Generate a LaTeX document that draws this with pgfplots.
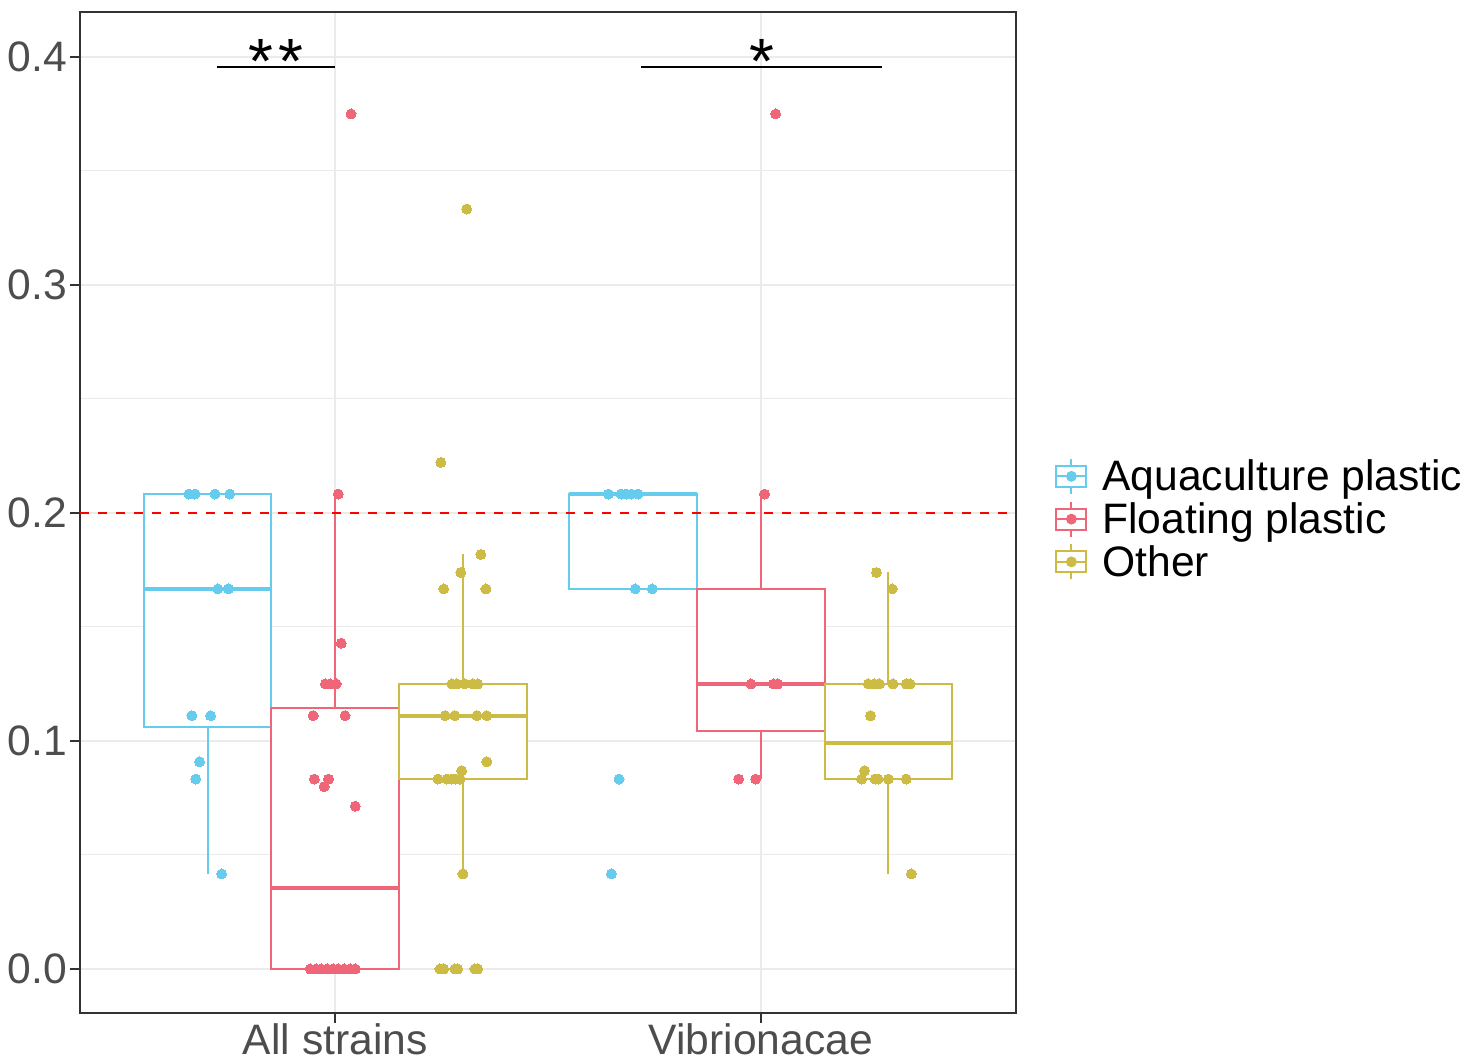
\documentclass[border=0pt]{standalone}
\usepackage{pgfplots}
\pgfplotsset{compat=1.18}
\usepackage{fontspec}
\setmainfont{Liberation Sans}
\definecolor{aqua}{HTML}{66CCEE}
\definecolor{flo}{HTML}{EE6677}
\definecolor{oth}{HTML}{CCBB44}
\definecolor{tickgray}{HTML}{4D4D4D}
\definecolor{axgray}{HTML}{333333}
\definecolor{gridgray}{HTML}{EBEBEB}
\newcommand\ticksfont{\fontsize{21.3bp}{25bp}\selectfont}
\newcommand\sigfont{\fontsize{32bp}{36bp}\selectfont}
\newcommand\keyimg[1]{%
 \addlegendimage{legend image code/.code={
   \draw[#1, line width=1bp] (7.5bp,-6.75bp) -- (7.5bp,10.75bp);
   \draw[#1, line width=1bp, fill=white] (0bp,-3.25bp) rectangle (15bp,7.25bp);
   \draw[#1, line width=1bp] (0bp,2bp) -- (15bp,2bp);
   \fill[#1] (7.5bp,2bp) circle (2.5bp);
 }}}
% one box: colour, position, lower whisker, lower quartile, median, upper quartile, upper whisker
\newcommand\gbox[7]{%
 \addplot[#1, line width=1bp, forget plot] coordinates {(#2,#3) (#2,#4)};
 \addplot[#1, line width=1bp, forget plot] coordinates {(#2,#6) (#2,#7)};
 \addplot[#1, line width=1bp, fill=white, line join=miter, forget plot] coordinates {(#2-0.15,#4) (#2+0.15,#4) (#2+0.15,#6) (#2-0.15,#6)} -- cycle;
 \addplot[#1, line width=2bp, forget plot] coordinates {(#2-0.15,#5) (#2+0.15,#5)};
}
\begin{document}
\begin{tikzpicture}
\useasboundingbox (-40bp,-25bp) rectangle (701.5bp,506.5bp);
\begin{axis}[
 at={(0,0)}, anchor=south west,
 scale only axis, width=468bp, height=500.5bp,
 xmin=0.4, xmax=2.6, ymin=-0.0193, ymax=0.4197,
 xtick={1,2}, xticklabels={All strains, Vibrionacae},
 ytick={0,0.1,0.2,0.3,0.4},
 minor ytick={0.05,0.15,0.25,0.35},
 yticklabel style={xshift=2bp, /pgf/number format/.cd, fixed, fixed zerofill, precision=1},
 xticklabel style={yshift=3bp},
 /pgf/number format/assume math mode=true,
 ticklabel style={font=\ticksfont, text=tickgray},
 grid=both,
 major grid style={gridgray, line width=1bp},
 minor grid style={gridgray, line width=0.5bp},
 tick align=outside, major tick length=5bp, minor tick length=0pt,
 tick style={axgray, line width=1bp},
 tick pos=left,
 axis line style={axgray, line width=0.6bp},
 legend style={at={(rel axis cs:1,0.5)}, anchor=west, xshift=19.5bp, yshift=-4.75bp,
   draw=none, fill=none, inner sep=0pt, row sep=0pt, font=\ticksfont, text=black,
   nodes={inner sep=0pt, text height=15.3bp, text depth=4.95bp},
   /tikz/every odd column/.append style={column sep=7.5bp}},
 legend cell align=left,
]
% boxplots (whiskers, box, median)
\gbox{aqua}{0.7}{0.0417}{0.1061}{0.1667}{0.2083}{0.2083}
\gbox{flo}{1.0}{0}{0}{0.0357}{0.1146}{0.2083}
\gbox{oth}{1.3}{0.0417}{0.0833}{0.1111}{0.125}{0.1818}
\gbox{aqua}{1.7}{0.1667}{0.1667}{0.2083}{0.2083}{0.2083}
\gbox{flo}{2.0}{0.0833}{0.1044}{0.125}{0.1667}{0.2083}
\gbox{oth}{2.3}{0.0417}{0.0833}{0.0991}{0.125}{0.1739}
% threshold
\addplot[red, line width=1bp, dash pattern=on 4.5bp off 4.5bp, forget plot] coordinates {(0.4,0.2) (2.6,0.2)};
% points
\addplot[aqua, only marks, mark=*, mark size=2.5bp, mark options={draw=aqua, fill=aqua, line width=0pt}, forget plot] coordinates {
(0.656,0.2083) (0.670,0.2083) (0.717,0.2083) (0.752,0.2083)
(0.724,0.1667) (0.749,0.1667)
(0.663,0.1111) (0.707,0.1111)
(0.681,0.0909) (0.672,0.0833) (0.733,0.0417)
(1.642,0.2083) (1.672,0.2083) (1.684,0.2083) (1.696,0.2083) (1.712,0.2083)
(1.705,0.1667) (1.745,0.1667)
(1.667,0.0833) (1.649,0.0417)
};
\addplot[flo, only marks, mark=*, mark size=2.5bp, mark options={draw=flo, fill=flo, line width=0pt}, forget plot] coordinates {
(1.037,0.375) (1.007,0.2083) (1.014,0.1429)
(0.977,0.125) (0.988,0.125) (1.002,0.125)
(0.948,0.1111) (1.023,0.1111)
(0.951,0.0833) (0.984,0.0833) (0.974,0.08) (1.047,0.0714)
(0.941,0) (0.955,0) (0.967,0) (0.981,0) (0.995,0) (1.007,0) (1.021,0) (1.035,0) (1.047,0)
(2.035,0.375) (2.009,0.2083)
(1.977,0.125) (2.030,0.125) (2.040,0.125)
(1.948,0.0833) (1.988,0.0833)
};
\addplot[oth, only marks, mark=*, mark size=2.5bp, mark options={draw=oth, fill=oth, line width=0pt}, forget plot] coordinates {
(1.309,0.3333) (1.248,0.2222) (1.342,0.1818) (1.295,0.1739)
(1.255,0.1667) (1.354,0.1667)
(1.274,0.125) (1.286,0.125) (1.304,0.125) (1.323,0.125) (1.335,0.125)
(1.258,0.1111) (1.281,0.1111) (1.333,0.1111) (1.356,0.1111)
(1.356,0.0909) (1.297,0.087)
(1.241,0.0833) (1.262,0.0833) (1.274,0.0833) (1.283,0.0833) (1.293,0.0833)
(1.300,0.0417)
(1.246,0) (1.255,0) (1.281,0) (1.288,0) (1.328,0) (1.335,0)
(2.272,0.1739) (2.309,0.1667)
(2.253,0.125) (2.267,0.125) (2.279,0.125) (2.311,0.125) (2.342,0.125) (2.351,0.125)
(2.258,0.1111) (2.244,0.087)
(2.237,0.0833) (2.269,0.0833) (2.276,0.0833) (2.300,0.0833) (2.342,0.0833)
(2.354,0.0417)
};
% significance
\addplot[black, line width=1bp, forget plot] coordinates {(0.7213,0.3956) (1.0,0.3956)};
\addplot[black, line width=1bp, forget plot] coordinates {(1.7190,0.3956) (2.2857,0.3956)};
\node[anchor=base, font=\sigfont, inner sep=0pt] at (axis cs:0.8607,0.3882) {*\kern3bp*};
\node[anchor=base, font=\sigfont, inner sep=0pt] at (axis cs:2.0023,0.3882) {*};
% legend
\keyimg{aqua}\addlegendentry{Aquaculture plastic}
\keyimg{flo}\addlegendentry{Floating plastic}
\keyimg{oth}\addlegendentry{Other}
\end{axis}
\end{tikzpicture}
\end{document}
